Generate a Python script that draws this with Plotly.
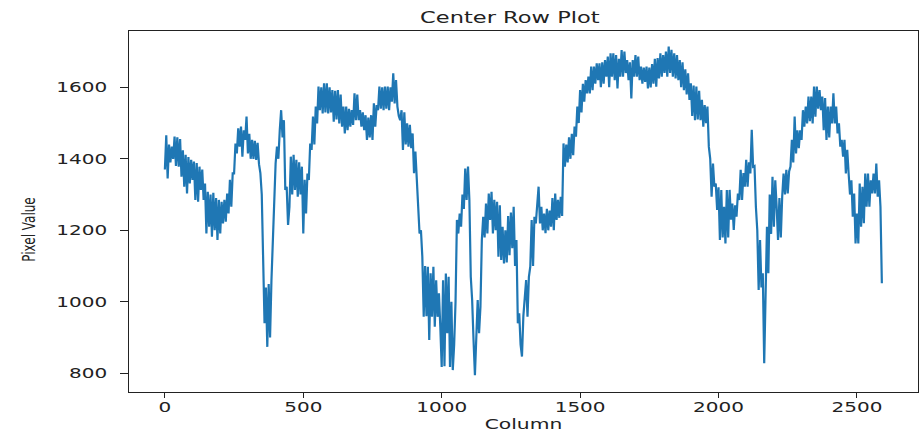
import plotly.graph_objects as go

# Pixel values along the centre row, one sample every 5 columns
step = 5
pixel_values = [
    1370, 1466, 1345, 1440, 1390, 1434, 1400, 1462, 1380, 1460,
    1378, 1455, 1350, 1424, 1322, 1411, 1303, 1405, 1331, 1397,
    1341, 1392, 1285, 1388, 1280, 1378, 1313, 1370, 1285, 1331,
    1191, 1308, 1210, 1300, 1182, 1305, 1200, 1290, 1173, 1285,
    1191, 1280, 1219, 1285, 1224, 1303, 1247, 1341, 1266, 1359,
    1359, 1443, 1415, 1485, 1434, 1490, 1406, 1480, 1453, 1518,
    1415, 1470, 1400, 1453, 1400, 1450, 1397, 1445, 1385, 1360,
    1300, 1120, 940, 1040, 874, 1050, 900, 1060, 1190, 1257,
    1387, 1434, 1400, 1480, 1536, 1460, 1508, 1313, 1322, 1215,
    1266, 1406, 1300, 1411, 1313, 1397, 1294, 1390, 1300, 1378,
    1191, 1341, 1247, 1359, 1341, 1443, 1425, 1518, 1440, 1546,
    1499, 1602, 1536, 1600, 1527, 1611, 1530, 1611, 1527, 1600,
    1530, 1592, 1504, 1590, 1510, 1592, 1499, 1580, 1490, 1546,
    1471, 1546, 1480, 1540, 1490, 1536, 1495, 1583, 1508, 1580,
    1508, 1536, 1490, 1530, 1480, 1522, 1453, 1515, 1460, 1522,
    1453, 1555, 1490, 1550, 1536, 1602, 1540, 1600, 1536, 1602,
    1540, 1602, 1536, 1600, 1560, 1639, 1555, 1620, 1546, 1520,
    1508, 1536, 1425, 1530, 1440, 1499, 1434, 1495, 1430, 1471,
    1360, 1420, 1331, 1266, 1191, 1200, 1126, 958, 1100, 960,
    1098, 893, 1080, 958, 1098, 930, 1060, 958, 1024, 930,
    818, 1060, 820, 1079, 912, 1070, 818, 1000, 809, 880,
    1000, 1229, 1191, 1247, 1210, 1300, 1260, 1373, 1285, 1378,
    1285, 1070, 1005, 893, 795, 900, 1005, 912, 986, 1173,
    1238, 1180, 1275, 1191, 1303, 1229, 1308, 1191, 1285, 1200,
    1280, 1126, 1270, 1117, 1210, 1107, 1200, 1110, 1240, 1130,
    1250, 1150, 1266, 1100, 1173, 940, 968, 880, 847, 960,
    1000, 1061, 958, 1070, 1098, 1229, 1100, 1238, 1219, 1280,
    1322, 1219, 1266, 1200, 1247, 1192, 1260, 1200, 1255, 1210,
    1290, 1200, 1303, 1229, 1285, 1235, 1294, 1240, 1443, 1378,
    1440, 1390, 1460, 1400, 1470, 1410, 1490, 1462, 1546, 1500,
    1592, 1530, 1610, 1560, 1620, 1583, 1630, 1583, 1658, 1592,
    1658, 1610, 1667, 1620, 1667, 1600, 1670, 1610, 1676, 1630,
    1686, 1600, 1695, 1630, 1695, 1620, 1690, 1597, 1680, 1630,
    1704, 1630, 1700, 1640, 1676, 1620, 1670, 1569, 1676, 1630,
    1690, 1630, 1686, 1620, 1658, 1610, 1655, 1615, 1658, 1597,
    1655, 1600, 1665, 1610, 1680, 1602, 1682, 1625, 1695, 1630,
    1690, 1640, 1700, 1630, 1714, 1640, 1705, 1630, 1695, 1625,
    1690, 1620, 1676, 1600, 1670, 1592, 1650, 1580, 1639, 1565,
    1611, 1520, 1605, 1508, 1602, 1510, 1590, 1508, 1565, 1490,
    1550, 1500, 1546, 1434, 1400, 1294, 1387, 1322, 1331, 1257,
    1320, 1173, 1313, 1180, 1266, 1163, 1313, 1180, 1313, 1230,
    1275, 1201, 1270, 1238, 1303, 1285, 1369, 1285, 1360, 1322,
    1397, 1322, 1390, 1359, 1481, 1378, 1380, 1266, 1200, 1033,
    1173, 1040, 1080, 828, 1000, 1210, 1080, 1300, 1190, 1350,
    1210, 1340, 1266, 1173, 1290, 1180, 1294, 1359, 1300, 1369,
    1303, 1365, 1378, 1453, 1390, 1518, 1415, 1480, 1430, 1480,
    1453, 1536, 1490, 1546, 1499, 1574, 1505, 1574, 1499, 1602,
    1518, 1602, 1540, 1592, 1536, 1574, 1480, 1570, 1453, 1546,
    1460, 1546, 1499, 1583, 1499, 1546, 1471, 1499, 1434, 1453,
    1406, 1453, 1359, 1425, 1359, 1300, 1340, 1238, 1303, 1163,
    1247, 1163, 1331, 1210, 1322, 1220, 1359, 1266, 1359, 1266,
    1340, 1303, 1359, 1303, 1387, 1294, 1340, 1266, 1052,
]
columns = [i * step for i in range(len(pixel_values))]

x_ticks = [0, 500, 1000, 1500, 2000, 2500]
y_ticks = [800, 1000, 1200, 1400, 1600]

ink = "#222222"
base_font = "DejaVu Sans"

fig = go.Figure(
    go.Scatter(
        x=columns,
        y=pixel_values,
        mode="lines",
        line=dict(color="#1f77b4", width=2.2),
        hoverinfo="x+y",
    )
)

axis_common = dict(
    showgrid=False,
    zeroline=False,
    showline=True,
    linecolor=ink,
    linewidth=1,
    mirror=True,
    ticks="outside",
    tickcolor=ink,
    tickwidth=1,
    automargin=False,
    tickfont=dict(family=base_font, size=14, color=ink),
)

fig.update_layout(
    width=922,
    height=432,
    margin=dict(l=129, r=4, t=31, b=40),
    paper_bgcolor="white",
    plot_bgcolor="white",
    showlegend=False,
    title=dict(
        text="Center Row Plot",
        x=0.553,
        xanchor="center",
        y=0.96,
        yanchor="middle",
        font=dict(family=base_font, size=16, color=ink),
    ),
    xaxis=dict(
        axis_common,
        range=[-129.6, 2720.6],
        tickvals=x_ticks,
        ticktext=[str(v) for v in x_ticks],
        ticklen=5,
        title=dict(text="Column", standoff=2,
                   font=dict(family=base_font, size=14, color=ink)),
    ),
    yaxis=dict(
        axis_common,
        range=[747.7, 1757.5],
        tickvals=y_ticks,
        ticktext=[str(v) for v in y_ticks],
        ticklen=8,
        ticklabelstandoff=10,
        title=dict(text="Pixel Value", standoff=34,
                   font=dict(family=base_font, size=12, color=ink)),
    ),
)

# Widen the lettering horizontally (the figure's text is set wide) and
# nudge a few labels into place
widen_text = """
var gd = document.querySelector('.js-plotly-plot');
function widen(sel, s, anchor, dx, dy) {
  gd.querySelectorAll(sel).forEach(function (t) {
    var svg = t.ownerSVGElement.getBoundingClientRect();
    var r = t.getBoundingClientRect();
    var ax = anchor === 'end' ? r.right : (r.left + r.right) / 2;
    ax -= svg.left;
    var tr = t.getAttribute('transform') || '';
    t.setAttribute('transform', 'translate(' + (ax + dx) + ',' + dy + ') scale(' + s + ',1) translate(' + (-ax) + ',0) ' + tr);
  });
}
widen('.ytick text', 1.43, 'end', 0, 0);
widen('.xtick text', 1.43, 'middle', 0, -3);
widen('.gtitle', 1.41, 'middle', 0, 0);
widen('.xtitle', 1.45, 'middle', 0, 0);
widen('.ytitle', 1.4, 'middle', 0, 18);
"""

fig.write_html("out.html", post_script=widen_text)
